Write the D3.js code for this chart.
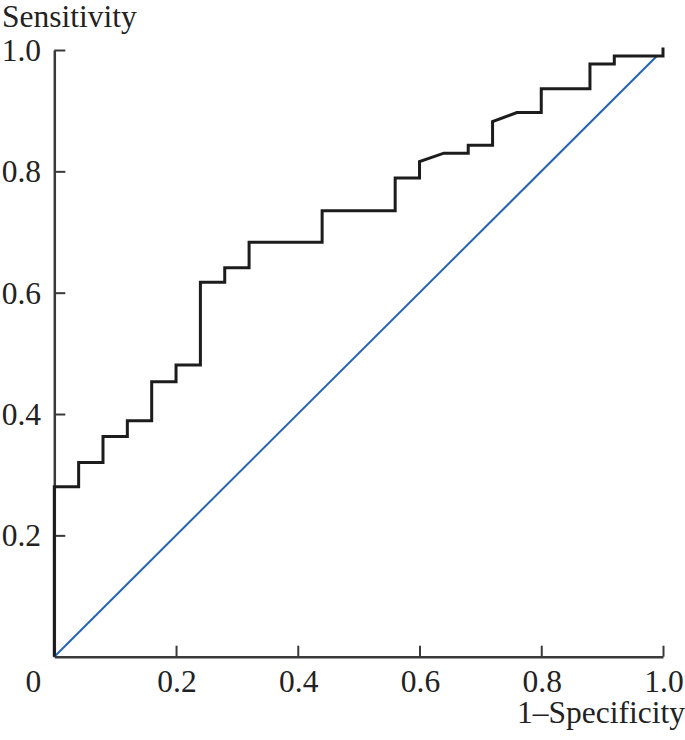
<!DOCTYPE html>
<html>
<head>
<meta charset="utf-8">
<script src="https://cdn.jsdelivr.net/npm/d3@7"></script>
<style>
html,body{margin:0;padding:0;background:#fff;}
svg{display:block;}
text{font-family:"Liberation Serif","Times New Roman",serif;fill:#222;}
</style>
</head>
<body>
<svg id="chart" width="685" height="740"></svg>
<script>
// ROC curve points (1-Specificity, Sensitivity)
const rocX = [0,0,0.04,0.04,0.08,0.08,0.12,0.12,0.16,0.16,0.20,0.20,0.24,0.24,0.28,0.28,0.32,0.32,0.44,0.44,0.56,0.56,0.60,0.60,0.64,0.68,0.68,0.72,0.72,0.76,0.80,0.80,0.88,0.88,0.92,0.92,1.0,1.0];
const rocY = [0,0.28,0.28,0.32,0.32,0.363,0.363,0.389,0.389,0.453,0.453,0.481,0.481,0.617,0.617,0.641,0.641,0.683,0.683,0.735,0.735,0.789,0.789,0.816,0.83,0.83,0.843,0.843,0.882,0.897,0.897,0.936,0.936,0.977,0.977,0.99,0.99,1.004];
const refX = [0,0.99];
const refY = [0,0.99];
const xTicks = [0,0.2,0.4,0.6,0.8,1.0];
const xTickLabels = ["0","0.2","0.4","0.6","0.8","1.0"];
const yTicks = [0.2,0.4,0.6,0.8,1.0];
const yTickLabels = ["0.2","0.4","0.6","0.8","1.0"];
const xTitle = "1\u2013Specificity";
const yTitle = "Sensitivity";

const svg = d3.select("#chart");
const x = d3.scaleLinear().domain([0,1]).range([54.3,663]);
const y = d3.scaleLinear().domain([0,1]).range([656.7,50]);
const axisColor = "#3a3a3a";
const fs = 31.5;

// X axis
const gx = svg.append("g").attr("transform",`translate(0,${y(0)})`)
  .call(d3.axisBottom(x).tickValues(xTicks).tickSizeInner(-11).tickSizeOuter(0).tickFormat(""));
gx.select(".domain").attr("stroke",axisColor).attr("stroke-width",2.5);
gx.selectAll(".tick line").attr("stroke",axisColor).attr("stroke-width",2);
gx.selectAll(".tick").filter(d=>d===0).select("line").remove();

// Y axis
const gy = svg.append("g").attr("transform",`translate(${x(0)},0)`)
  .call(d3.axisLeft(y).tickValues(yTicks).tickSizeInner(-11).tickSizeOuter(0).tickFormat(""));
gy.select(".domain").attr("stroke",axisColor).attr("stroke-width",2.5);
gy.selectAll(".tick line").attr("stroke",axisColor).attr("stroke-width",2);

// X tick labels
svg.append("g").selectAll("text").data(xTicks).join("text")
  .attr("x",(d,i)=> i===0 ? x(d)-21 : x(d)+1)
  .attr("y",692)
  .attr("text-anchor","middle")
  .attr("font-size",fs)
  .text((d,i)=>xTickLabels[i]);

// Y tick labels
svg.append("g").selectAll("text").data(yTicks).join("text")
  .attr("x",41)
  .attr("y",d=>y(d)+11)
  .attr("text-anchor","end")
  .attr("font-size",fs)
  .text((d,i)=>yTickLabels[i]);

// Titles
svg.append("text").attr("x",2).attr("y",27).attr("font-size",fs).text(yTitle);
svg.append("text").attr("x",685).attr("y",723).attr("text-anchor","end").attr("font-size",fs).text(xTitle);

// Reference diagonal
const line = d3.line().x(d=>x(d[0])).y(d=>y(d[1]));
svg.append("path").datum(refX.map((v,i)=>[v,refY[i]]))
  .attr("d",line).attr("fill","none").attr("stroke","#2563b3").attr("stroke-width",2);

// ROC curve
svg.append("path").datum(rocX.map((v,i)=>[v,rocY[i]]))
  .attr("d",line).attr("fill","none").attr("stroke","#1c1c1c").attr("stroke-width",3)
  .attr("stroke-linejoin","miter");
</script>
</body>
</html>
